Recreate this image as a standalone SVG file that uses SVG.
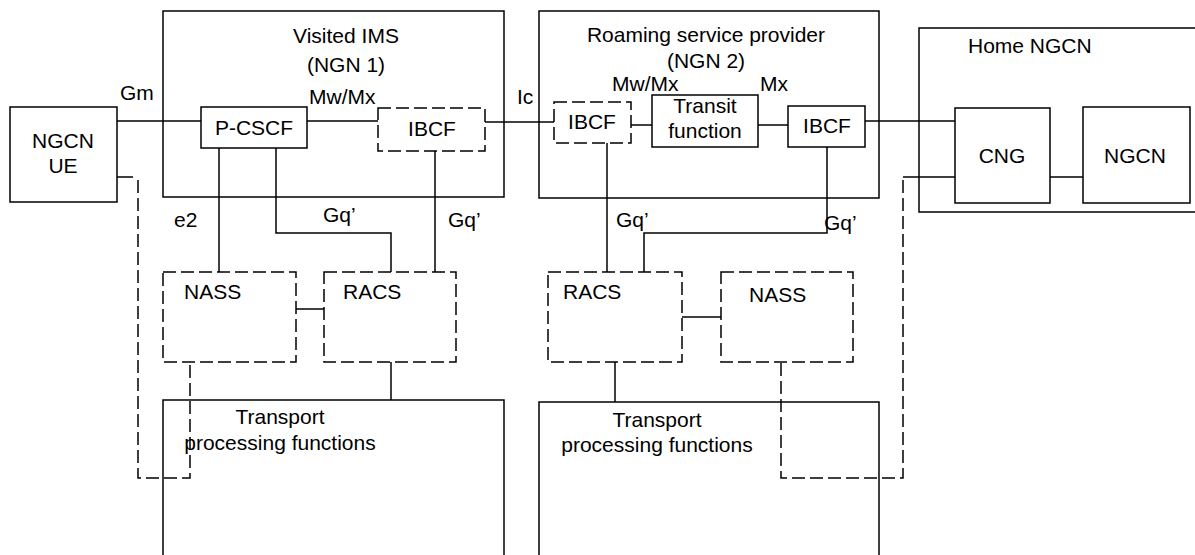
<svg xmlns="http://www.w3.org/2000/svg" width="1195" height="555" viewBox="0 0 1195 555">
<style>
.b{fill:none;stroke:#000;stroke-width:1.5}
.d{fill:none;stroke:#000;stroke-width:1.5;stroke-dasharray:13,5}
.c{fill:none;stroke:#000;stroke-width:1.5}
text{font-family:"Liberation Sans",Arial,sans-serif;font-size:21px;fill:#000}
.m{text-anchor:middle}
</style>
<rect width="1195" height="555" fill="#fff"/>
<g id="visited-ims"><rect class="b" x="163" y="11" width="341" height="186"/><text class="m" x="346" y="43">Visited IMS</text><text class="m" x="346" y="72">(NGN 1)</text></g>
<g id="roaming"><rect class="b" x="539" y="11" width="340" height="187"/><text class="m" x="706" y="42">Roaming service provider</text><text class="m" x="706" y="68">(NGN 2)</text></g>
<g id="home-ngcn"><rect class="b" x="919" y="28" width="290" height="184"/><text x="968" y="53">Home NGCN</text></g>
<g id="ngcn-ue"><rect class="b" x="10" y="107" width="107" height="95"/><text class="m" x="63" y="148">NGCN</text><text class="m" x="63" y="173">UE</text></g>
<g id="p-cscf"><rect class="b" x="201" y="107" width="106" height="41"/><text class="m" x="254" y="135">P-CSCF</text></g>
<g id="ibcf1"><rect class="d" x="378" y="108" width="107" height="43"/><text class="m" x="432" y="136">IBCF</text></g>
<g id="ibcf2"><rect class="d" x="554" y="102" width="77" height="41"/><text class="m" x="592" y="129">IBCF</text></g>
<g id="transit"><rect class="b" x="652" y="95" width="106" height="52"/><text class="m" x="705" y="113">Transit</text><text class="m" x="705" y="138">function</text></g>
<g id="ibcf3"><rect class="b" x="788" y="106" width="77" height="41"/><text class="m" x="827" y="133">IBCF</text></g>
<g id="cng"><rect class="b" x="955" y="108" width="95" height="95"/><text class="m" x="1002" y="163">CNG</text></g>
<g id="ngcn"><rect class="b" x="1083" y="107" width="107" height="96"/><text class="m" x="1135" y="163">NGCN</text></g>
<g id="nass1"><rect class="d" x="163" y="272" width="133" height="90"/><text x="184" y="299">NASS</text></g>
<g id="racs1"><rect class="d" x="324" y="272" width="132" height="90"/><text x="343" y="299">RACS</text></g>
<g id="racs2"><rect class="d" x="548" y="272" width="134" height="90"/><text x="563" y="299">RACS</text></g>
<g id="nass2"><rect class="d" x="721" y="272" width="132" height="90"/><text x="749" y="302">NASS</text></g>
<g id="transport1"><path class="b" d="M163,560 V400 H504 V560"/><text class="m" x="280" y="424">Transport</text><text class="m" x="280" y="450">processing functions</text></g>
<g id="transport2"><path class="b" d="M539,560 V402 H879 V560"/><text class="m" x="657" y="427">Transport</text><text class="m" x="657" y="452">processing functions</text></g>
<g id="connectors">
<path class="c" d="M117,121 H201"/>
<path class="c" d="M307,121 H378"/>
<path class="c" d="M485,122 H554"/>
<path class="c" d="M631,125 H652"/>
<path class="c" d="M758,125 H788"/>
<path class="c" d="M865,121 H955"/>
<path class="c" d="M1050,177 H1083"/>
<path class="c" d="M219,148 V272"/>
<path class="c" d="M276,148 V233 H391 V272"/>
<path class="c" d="M435,151 V272"/>
<path class="c" d="M607,143 V272"/>
<path class="c" d="M827,147 V233 H644 V272"/>
<path class="c" d="M296,309 H324"/>
<path class="c" d="M682,317 H721"/>
<path class="c" d="M391,362 V400"/>
<path class="c" d="M615,362 V402"/>
<path class="c" d="M117,177 H133"/>
<path class="d" d="M138,180 V478 H190 V362"/>
<path class="c" d="M955,177 H903"/>
<path class="d" d="M903,180 V478 H781 V362"/>
</g>
<g id="labels">
<text x="120" y="100">Gm</text>
<text x="309" y="104">Mw/Mx</text>
<text x="517" y="104">Ic</text>
<text x="612" y="91">Mw/Mx</text>
<text x="760" y="91">Mx</text>
<text x="174" y="227">e2</text>
<text x="323" y="222">Gq’</text>
<text x="448" y="227">Gq’</text>
<text x="616" y="227">Gq’</text>
<text x="824" y="230">Gq’</text>
</g>
</svg>
